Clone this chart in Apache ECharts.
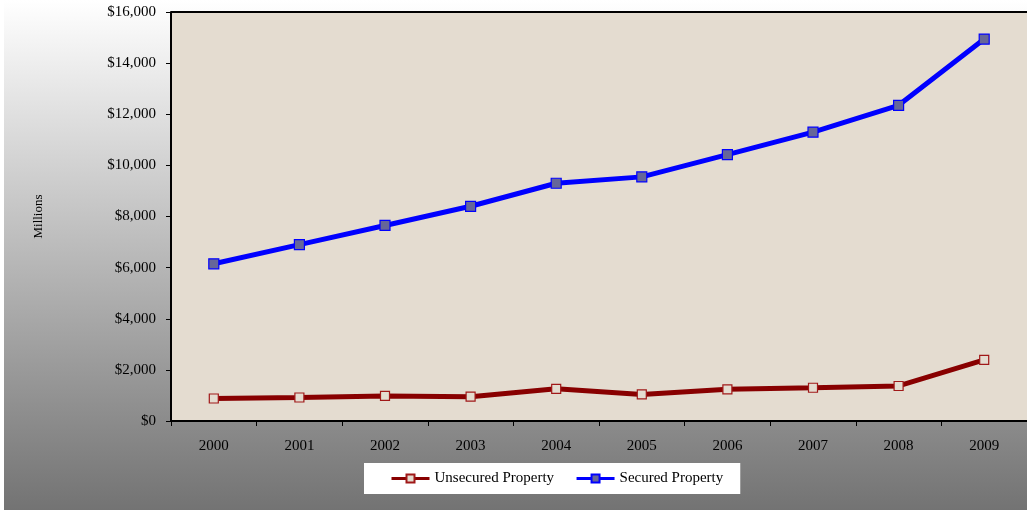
<!DOCTYPE html>
<html>
<head>
<meta charset="utf-8">
<script src="https://cdn.jsdelivr.net/npm/echarts@6/dist/echarts.min.js"></script>
<style>
  html, body { margin: 0; padding: 0; background: #ffffff; }
  #chart { width: 1027px; height: 510px; }
</style>
</head>
<body>
<div id="chart"></div>
<script>
// Property values by year, in millions of dollars
const years = ['2000', '2001', '2002', '2003', '2004', '2005', '2006', '2007', '2008', '2009'];
const unsecured = [880, 920, 980, 950, 1260, 1040, 1240, 1300, 1370, 2390];
const secured = [6150, 6900, 7650, 8400, 9300, 9550, 10420, 11300, 12350, 14940];
const yTicks = { min: 0, max: 16000, interval: 2000 };

const serif = '"Liberation Serif", "DejaVu Serif", serif';
const chart = echarts.init(document.getElementById('chart'));

chart.setOption({
  animation: false,
  textStyle: { fontFamily: serif },
  graphic: [
    {
      type: 'rect',
      z: -10,
      shape: { x: 4, y: 0, width: 1023, height: 510 },
      style: {
        fill: new echarts.graphic.LinearGradient(0, 0, 0, 1, [
          { offset: 0, color: '#ffffff' },
          { offset: 1, color: '#737373' }
        ])
      },
      silent: true
    }
  ],
  grid: {
    left: 171, top: 12, bottom: 89, right: -6,
    show: true, backgroundColor: '#e4dcd0', borderWidth: 0
  },
  legend: {
    left: 364, top: 463,
    padding: [8, 17, 8, 26],
    itemGap: 21,
    itemWidth: 38, itemHeight: 10,
    backgroundColor: '#ffffff',
    lineStyle: { width: 3 },
    textStyle: { fontFamily: serif, fontSize: 15, color: '#000000' },
    data: ['Unsecured Property', 'Secured Property']
  },
  xAxis: {
    type: 'category',
    data: years,
    boundaryGap: true,
    axisLine: { lineStyle: { color: '#000000', width: 2 } },
    axisTick: { show: true, length: 5, lineStyle: { color: '#000000', width: 1 } },
    axisLabel: { color: '#000000', fontSize: 15, fontFamily: serif, margin: 18 },
    splitLine: { show: false }
  },
  yAxis: {
    type: 'value',
    min: yTicks.min, max: yTicks.max, interval: yTicks.interval,
    name: 'Millions',
    nameLocation: 'middle',
    nameGap: 126,
    nameRotate: 90,
    nameTextStyle: { color: '#000000', fontSize: 13, fontFamily: serif },
    axisLine: { show: true, lineStyle: { color: '#000000', width: 2 } },
    axisTick: { show: true, length: 5, lineStyle: { color: '#000000', width: 1 } },
    axisLabel: {
      color: '#000000', fontSize: 15, fontFamily: serif, margin: 15,
      formatter: v => '$' + v.toLocaleString('en-US')
    },
    splitLine: { show: false }
  },
  series: [
    {
      name: 'Unsecured Property',
      type: 'line',
      data: unsecured,
      symbol: 'rect',
      symbolSize: 9,
      itemStyle: { color: '#e4dcd0', borderColor: '#a01818', borderWidth: 1.2 },
      lineStyle: { color: '#880000', width: 5 },
      z: 3
    },
    {
      name: 'Secured Property',
      type: 'line',
      data: secured,
      symbol: 'rect',
      symbolSize: 10,
      itemStyle: { color: '#666699', borderColor: '#0000ff', borderWidth: 1.2 },
      lineStyle: { color: '#0000ff', width: 5 },
      z: 4
    },
    {
      // top border of the plot area
      type: 'line',
      data: [],
      markLine: {
        silent: true, symbol: 'none', label: { show: false },
        lineStyle: { color: '#000000', width: 2, type: 'solid' },
        data: [{ yAxis: yTicks.max }]
      }
    }
  ]
});
</script>
</body>
</html>
